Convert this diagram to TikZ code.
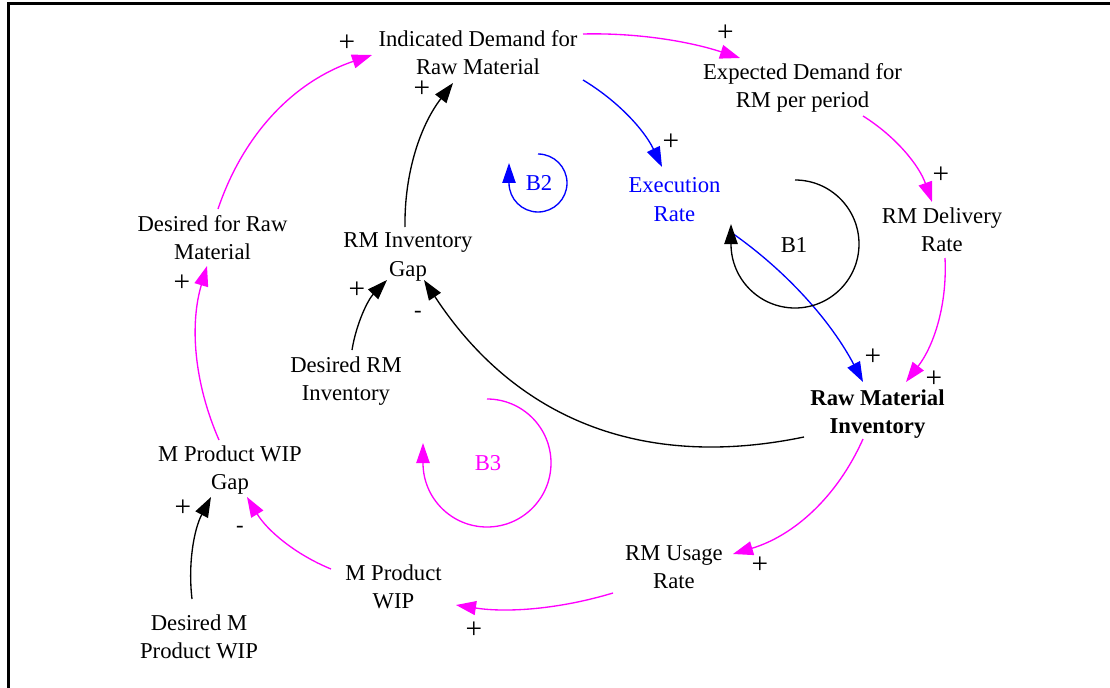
\documentclass[tikz,border=0pt]{standalone}
\usepackage{fontspec}
\setmainfont{Liberation Serif}
\usetikzlibrary{arrows.meta,calc}
\definecolor{vmag}{RGB}{255,0,255}
\definecolor{vblue}{RGB}{0,0,255}
% two-line variable name with fixed line boxes
\newcommand\vlab[2]{\strut#1\\\strut#2}

\begin{document}
\begin{tikzpicture}[x=0.75pt,y=-0.75pt,
  var/.style={inner sep=0pt, align=center, font=\fontsize{17}{21}\selectfont},
  sgn/.style={inner sep=0pt, font=\fontsize{17}{21}\selectfont},
  pls/.style={inner sep=0pt, font=\fontsize{22}{24}\selectfont},
  link/.style={line width=1pt, -{Triangle[length=15pt,width=10.5pt]}},
  blk/.style={link, black},
  mag/.style={link, vmag},
  blu/.style={link, vblue},
  loopline/.style={line width=1pt, -{Triangle[length=15pt,width=10pt]}},
]
\useasboundingbox (0,0) rectangle (1110,688);

% frame
\draw[line width=2.25pt] (8,688) -- (8,4) -- (1110,4);

% variables
\node[var] (ind)  at (478,55.4)   {\vlab{Indicated Demand for}{Raw Material}};
\node[var] (exp)  at (802.5,88.4) {\vlab{Expected Demand for}{RM per period}};
\node[var, text=vblue] (exe) at (674.5,201.4) {\vlab{Execution}{Rate}};
\node[var] (del)  at (942,231.6)  {\vlab{RM Delivery}{Rate}};
\node[var, font=\fontsize{17}{21}\selectfont\bfseries] (rmi) at (877.5,413.4) {\vlab{Raw Material}{Inventory}};
\node[var] (use)  at (674,568.4)  {\vlab{RM Usage}{Rate}};
\node[var] (mwip) at (393.5,588.4){\vlab{M Product}{WIP}};
\node[var] (dmw)  at (199,638.4)  {\vlab{Desired M}{Product WIP}};
\node[var] (gapm) at (230,469.4)  {\vlab{M Product WIP}{Gap}};
\node[var] (dfr)  at (212.5,239.4){\vlab{Desired for Raw}{Material}};
\node[var] (gapr) at (408,256.4)  {\vlab{RM Inventory}{Gap}};
\node[var] (drm)  at (346,380.4)  {\vlab{Desired RM}{Inventory}};

% causal links
\draw[mag] ($(ind)+(105,-21.4)$) .. controls +(51.7,-1.3) and +(-53,-17.3) .. ($(exp)+(-62.5,-30.4)$);
\draw[mag] ($(exp)+(60.5,27.6)$) .. controls +(33,20.7) and +(-13,-36.7) .. ($(del)+(-10,-29.6)$);
\draw[mag] ($(del)+(3,26.4)$) .. controls +(2.3,46) and +(28.3,-36.7) .. ($(rmi)+(28.5,-31.4)$);
\draw[mag] ($(rmi)+(-14.5,25.6)$) .. controls +(-26,58.3) and +(60.7,-18.3) .. ($(use)+(59,-14.4)$);
\draw[mag] ($(use)+(-61,24.6)$) .. controls +(-53,16) and +(51.7,8) .. ($(mwip)+(62.5,16.6)$);
\draw[mag] ($(mwip)+(-62.5,-19.4)$) .. controls +(-36,-14.7) and +(20,33.3) .. ($(gapm)+(17,27.6)$);
\draw[blk] ($(dmw)+(-7,-39.4)$) .. controls +(-4.2,-36) and +(-16.9,32) .. ($(gapm)+(-19,27.6)$);
\draw[mag] ($(gapm)+(-11,-29.4)$) .. controls +(-25.3,-58) and +(-17.3,58) .. ($(dfr)+(-5.5,26.6)$);
\draw[mag] ($(dfr)+(5.5,-30.4)$) .. controls +(26,-76.7) and +(-76.7,26) .. ($(ind)+(-106,-0.4)$);
\draw[blk] ($(gapr)+(-3,-29.4)$) .. controls +(-0.8,-53.6) and +(-32.8,42.4) .. ($(ind)+(-25,27.6)$);
\draw[blk] ($(drm)+(6,-30.4)$) .. controls +(4.4,-27.1) and +(-18.9,19.5) .. ($(gapr)+(-21,23.6)$);
\draw[blk] ($(rmi)+(-73.5,23.6)$) .. controls +(-162.7,33.7) and +(90.7,138.3) .. ($(gapr)+(16,23.6)$);
\draw[blu] ($(ind)+(105,24.6)$) .. controls +(35,21) and +(-17.7,-37) .. ($(exe)+(-12.5,-34.4)$);
\draw[blu] ($(exe)+(57.5,31.6)$) .. controls +(55.7,39.1) and +(-31.7,-60.2) .. ($(rmi)+(-14.5,-31.4)$);

% polarities
\node[pls] (p1)  at (347,43)  {+};
\node[pls] (p2)  at (725.5,33.5) {+};
\node[pls] (p3)  at (671,142) {+};
\node[pls] (p4)  at (422,89)  {+};
\node[pls] (p5)  at (941,175) {+};
\node[pls] (p6)  at (873,357) {+};
\node[pls] (p7)  at (934,379) {+};
\node[pls] (p8)  at (760,565) {+};
\node[pls] (p9)  at (474,630) {+};
\node[sgn] (p10) at (240,529) {-};
\node[pls] (p11) at (183,508) {+};
\node[pls] (p12) at (182,283) {+};
\node[pls] (p13) at (357,290) {+};
\node[sgn] (p14) at (418,314) {-};

% loop markers
\draw[loopline, black] (795,180) arc[start angle=-90, end angle=180, radius=64] -- ++(0,-20);
\node[sgn] (b1) at (794,245) {B1};
\draw[loopline, vblue] (538,154) arc[start angle=-90, end angle=180, radius=29] -- ++(0,-20);
\node[sgn, text=vblue] (b2) at (539,183) {B2};
\draw[loopline, vmag] (487,399) arc[start angle=-90, end angle=180, radius=64] -- ++(0,-20);
\node[sgn, text=vmag] (b3) at (488,463) {B3};
\end{tikzpicture}
\end{document}
